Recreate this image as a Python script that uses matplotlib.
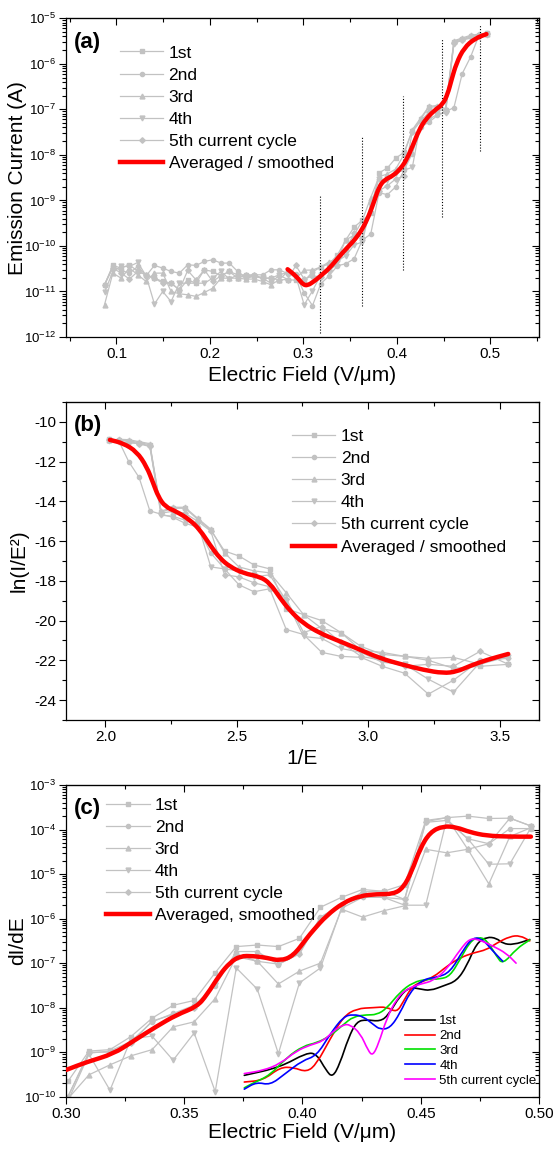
import numpy as np
import matplotlib
matplotlib.use("Agg")
import matplotlib.pyplot as plt
from matplotlib.path import Path
from matplotlib.patches import PathPatch
from matplotlib.lines import Line2D
from matplotlib.ticker import MultipleLocator, LogLocator, NullFormatter

plt.rcParams['font.family'] = ['Liberation Sans', 'DejaVu Sans']
plt.rcParams['mathtext.fontset'] = 'custom'
plt.rcParams['mathtext.rm'] = 'Liberation Sans'
plt.rcParams['mathtext.it'] = 'Liberation Sans:italic'
plt.rcParams['mathtext.bf'] = 'Liberation Sans:bold'
plt.rcParams['axes.unicode_minus'] = False

# --- data ---------------------------------------------------------------------
# applied field (V/um), same grid for all five cycles
E = [0.0872, 0.0961, 0.1050, 0.1139, 0.1228, 0.1317, 0.1406, 0.1495, 0.1584,
     0.1673, 0.1762, 0.1851, 0.1940, 0.2029, 0.2118, 0.2207, 0.2296, 0.2385,
     0.2474, 0.2563, 0.2652, 0.2741, 0.2830, 0.2919, 0.3008, 0.3097, 0.3186,
     0.3275, 0.3364, 0.3453, 0.3542, 0.3631, 0.3720, 0.3809, 0.3898, 0.3987,
     0.4076, 0.4165, 0.4254, 0.4343, 0.4432, 0.4521, 0.4610, 0.4699, 0.4788,
     0.4877, 0.4966]

# emission current below threshold (A), first 22 field points
I_low_1 = [1.40e-11, 3.73e-11, 3.26e-11, 3.86e-11, 2.75e-11, 2.32e-11, 1.96e-11, 1.66e-11,
           1.52e-11, 1.09e-11, 1.80e-11, 1.52e-11, 2.99e-11, 2.75e-11, 2.21e-11, 2.75e-11,
           2.32e-11, 2.32e-11, 2.14e-11, 1.96e-11, 1.96e-11, 2.32e-11]
I_low_2 = [1.40e-11, 3.54e-11, 2.90e-11, 2.53e-11, 3.54e-11, 2.21e-11, 3.73e-11, 3.26e-11,
           2.75e-11, 2.53e-11, 3.86e-11, 3.73e-11, 4.56e-11, 4.97e-11, 4.20e-11, 4.20e-11,
           2.75e-11, 1.96e-11, 2.32e-11, 2.32e-11, 2.99e-11, 2.99e-11]
I_low_3 = [5.1e-12, 2.53e-11, 1.96e-11, 3.26e-11, 2.32e-11, 1.66e-11, 2.53e-11, 2.53e-11,
           1.0e-11, 8.9e-12, 8.45e-12, 7.8e-12, 9.5e-12, 1.18e-11, 1.96e-11, 1.96e-11,
           1.96e-11, 1.87e-11, 1.87e-11, 1.66e-11, 1.40e-11, 1.80e-11]
I_low_4 = [9.5e-12, 2.75e-11, 3.54e-11, 3.54e-11, 4.34e-11, 2.21e-11, 5.3e-12, 1.0e-11,
           6.0e-12, 1.52e-11, 1.52e-11, 1.52e-11, 1.52e-11, 1.96e-11, 2.75e-11, 1.87e-11,
           2.32e-11, 1.96e-11, 2.14e-11, 1.96e-11, 1.52e-11, 2.32e-11]
I_low_5 = [1.40e-11, 3.26e-11, 2.53e-11, 1.87e-11, 2.75e-11, 2.32e-11, 1.96e-11, 1.52e-11,
           1.52e-11, 1.09e-11, 2.90e-11, 1.80e-11, 2.99e-11, 1.66e-11, 2.21e-11, 2.75e-11,
           1.96e-11, 2.32e-11, 2.32e-11, 1.96e-11, 1.96e-11, 1.80e-11]

# ln(I/E^2) for the remaining 25 field points (0.283 ... 0.497 V/um)
FN_1 = [-22.20, -22.30, -22.40, -22.00, -21.80, -21.70, -21.30, -20.60, -20.00, -19.70,
        -19.40, -17.40, -17.20, -16.75, -16.50, -15.45, -14.90, -14.35, -14.35, -14.55,
        -11.15, -11.05, -10.95, -10.92, -10.88]
FN_2 = [-21.90, -22.00, -23.00, -23.70, -22.65, -22.30, -21.85, -21.80, -21.60, -20.70,
        -20.45, -18.40, -18.55, -18.20, -17.40, -16.60, -15.30, -15.10, -14.80, -14.65,
        -14.48, -12.80, -12.00, -10.95, -10.85]
FN_3 = [-21.80, -22.20, -21.85, -21.90, -21.80, -21.60, -21.50, -20.60, -20.40, -19.70,
        -18.60, -17.60, -17.50, -17.30, -16.60, -15.40, -14.85, -14.30, -14.30, -14.50,
        -11.10, -11.00, -10.90, -10.88, -10.92]
FN_4 = [-21.85, -22.10, -23.60, -22.95, -22.20, -22.10, -21.60, -21.40, -20.90, -20.80,
        -19.00, -17.70, -17.80, -17.50, -17.40, -17.30, -15.10, -14.95, -14.75, -14.70,
        -11.25, -11.10, -11.05, -11.00, -10.95]
FN_5 = [-22.20, -21.55, -22.30, -22.20, -22.30, -22.00, -21.80, -21.10, -20.30, -20.60,
        -18.90, -18.30, -18.10, -17.80, -17.70, -15.50, -15.00, -14.60, -14.50, -14.60,
        -11.20, -11.10, -11.00, -10.90, -10.90]

# averaged / smoothed curve in FN coordinates
fit_invE = [2.017, 2.068, 2.119, 2.157, 2.182, 2.201, 2.227, 2.271, 2.322, 2.360, 2.398,
            2.436, 2.474, 2.525, 2.588, 2.626, 2.664, 2.702, 2.753, 2.817, 2.880, 2.956,
            3.045, 3.134, 3.210, 3.286, 3.337, 3.387, 3.451, 3.533]
fit_ln = [-10.91, -11.08, -11.50, -12.25, -13.09, -13.76, -14.27, -14.52, -14.94, -15.44,
          -16.20, -16.87, -17.29, -17.62, -17.79, -18.12, -18.85, -19.50, -20.14, -20.64,
          -20.98, -21.39, -21.90, -22.23, -22.48, -22.65, -22.57, -22.28, -21.98, -21.68]

# step positions (dotted markers in panel a)
step_E = [0.3177, 0.3623, 0.4068, 0.4479, 0.4889]
step_top = [1.24e-9, 2.6e-8, 2.0e-7, 3.6e-6, 7.1e-6]
step_bot = [1.2e-12, 4.8e-12, 3.0e-11, 4.3e-10, 1.2e-8]

# dI/dE for the field points from 0.301 V/um on
D_1 = [2.2e-10, 1.06e-9, 1.14e-9, 2.25e-9, 5.8e-9, 1.13e-8, 1.45e-8, 6.1e-8, 2.35e-7, 2.55e-7,
       2.35e-7, 3.6e-7, 1.8e-6, 3.0e-6, 4.5e-6, 4.1e-6, 5.8e-6, 1.6e-4, 1.85e-4, 2.0e-4,
       1.77e-4, 1.8e-4, 1.2e-4]
D_2 = [1.0e-10, 9.5e-10, 1.06e-9, 1.75e-9, 4.8e-9, 7.4e-9, 1.13e-8, 3.1e-8, 1.82e-7, 1.82e-7,
       9.3e-8, 1.67e-7, 1.08e-6, 2.1e-6, 3.0e-6, 3.0e-6, 2.7e-6, 1.45e-4, 1.6e-4, 6.2e-5,
       4.8e-5, 1.05e-4, 1.05e-4]
D_3 = [9e-11, 3.1e-10, 5.2e-10, 8.3e-10, 1.14e-9, 3.7e-9, 4.8e-9, 1.6e-8, 1.4e-7, 1.1e-7,
       3.4e-8, 6.6e-8, 1.0e-7, 1.63e-6, 1.08e-6, 1.5e-6, 1.94e-6, 3.6e-5, 3.0e-5, 3.6e-5,
       6.0e-6, 7.0e-5, 1.1e-4]
D_4 = [8e-11, 9e-10, 1.4e-10, 2.0e-9, 2.3e-9, 6.6e-10, 2.7e-9, 1.3e-10, 7.8e-8, 2.6e-8,
       9.3e-10, 3.6e-8, 7.8e-8, 1.7e-6, 3.0e-6, 3.0e-6, 2.0e-6, 2.0e-6, 1.7e-4, 6.2e-5,
       1.66e-5, 1.7e-5, 1.1e-4]
D_5 = [1.0e-10, 1.0e-9, 1.0e-9, 1.6e-9, 5.0e-9, 7e-9, 1.0e-8, 3.5e-8, 1.6e-7, 1.1e-7,
       9.5e-8, 1.6e-7, 1.05e-6, 2.0e-6, 4.0e-6, 4.1e-6, 2.7e-6, 1.5e-4, 1.85e-4, 3.6e-5,
       4.8e-5, 1.8e-4, 1.2e-4]

# averaged, smoothed dI/dE (log10)
dfit_E = [0.3000, 0.3088, 0.3200, 0.3285, 0.3383, 0.3468, 0.3553, 0.3595, 0.3651, 0.3693,
          0.3736, 0.3792, 0.3849, 0.3905, 0.3961, 0.4018, 0.4046, 0.4102, 0.4173, 0.4243,
          0.4314, 0.4384, 0.4426, 0.4462, 0.4497, 0.4539, 0.4595, 0.4652, 0.4708, 0.4779,
          0.4877, 0.4966]
dfit_log = [-9.40, -9.22, -9.04, -8.75, -8.42, -8.16, -7.98, -7.72, -7.25, -6.99,
            -6.84, -6.84, -6.88, -6.95, -6.84, -6.44, -6.26, -5.93, -5.64, -5.49,
            -5.45, -5.45, -5.31, -4.94, -4.43, -4.06, -3.92, -3.95, -4.06, -4.14,
            -4.16, -4.16]

# smoothed derivative of each cycle (inset curves, log10)
c1_E = [0.3754, 0.3905, 0.4018, 0.4060, 0.4100, 0.4127, 0.4158, 0.4194, 0.4229, 0.4271,
        0.4328, 0.4363, 0.4412, 0.4454, 0.4497, 0.4540, 0.4596, 0.4652, 0.4694, 0.4736,
        0.4779, 0.4821, 0.4847, 0.4891, 0.4961]
c1_L = [-9.52, -9.34, -9.01, -9.04, -9.41, -9.57, -9.26, -8.68, -8.31, -8.27, -8.31, -8.17,
        -7.73, -7.54, -7.58, -7.62, -7.51, -7.40, -7.07, -6.55, -6.41, -6.44, -6.56, -6.59,
        -6.47]
c2_E = [0.3754, 0.3834, 0.3905, 0.3961, 0.4018, 0.4060, 0.4116, 0.4173, 0.4229, 0.4300,
        0.4356, 0.4398, 0.4426, 0.4461, 0.4497, 0.4553, 0.4610, 0.4666, 0.4722, 0.4779,
        0.4821, 0.4877, 0.4920, 0.4961]
c2_L = [-9.67, -9.63, -9.34, -9.34, -9.45, -9.26, -8.71, -8.20, -8.02, -8.00, -7.98, -8.11,
        -7.87, -7.54, -7.43, -7.32, -7.07, -6.88, -6.77, -6.70, -6.55, -6.40, -6.38, -6.50]
c3_E = [0.3754, 0.3792, 0.3862, 0.3933, 0.4003, 0.4060, 0.4116, 0.4173, 0.4215, 0.4271,
        0.4313, 0.4356, 0.4412, 0.4468, 0.4525, 0.4581, 0.4624, 0.4666, 0.4708, 0.4744,
        0.4779, 0.4821, 0.4847, 0.4906, 0.4961]
c3_L = [-9.80, -9.69, -9.52, -9.12, -8.86, -8.79, -8.64, -8.38, -8.20, -8.16, -8.16, -8.02,
        -7.65, -7.43, -7.36, -7.36, -7.29, -6.92, -6.52, -6.41, -6.48, -6.85, -7.03, -6.67,
        -6.48]
c4_E = [0.3754, 0.3806, 0.3863, 0.3925, 0.3999, 0.4060, 0.4116, 0.4173, 0.4215, 0.4257,
        0.4300, 0.4328, 0.4370, 0.4412, 0.4454, 0.4511, 0.4567, 0.4624, 0.4680, 0.4722,
        0.4765, 0.4800, 0.4847]
c4_L = [-9.83, -9.67, -9.74, -9.49, -9.19, -9.08, -8.60, -8.20, -8.15, -8.20, -8.38, -8.49,
        -8.46, -8.13, -7.65, -7.36, -7.32, -7.21, -6.70, -6.41, -6.48, -6.70, -6.96]
c5_E = [0.3754, 0.3834, 0.3905, 0.3975, 0.4032, 0.4088, 0.4130, 0.4173, 0.4201, 0.4244,
        0.4278, 0.4297, 0.4321, 0.4356, 0.4398, 0.4440, 0.4497, 0.4553, 0.4610, 0.4666,
        0.4708, 0.4750, 0.4807, 0.4862, 0.4903]
c5_L = [-9.48, -9.41, -9.26, -8.97, -8.84, -8.75, -8.53, -8.38, -8.38, -8.57, -8.97, -9.08,
        -8.82, -8.24, -7.80, -7.58, -7.47, -7.40, -7.14, -6.70, -6.44, -6.48, -6.62, -6.78,
        -7.00]

labels = ['1st', '2nd', '3rd', '4th', '5th current cycle']
markers = ['s', 'o', '^', 'v', 'D']
msizes = [3.0, 3.0, 3.5, 3.5, 2.8]
GREY = '#c2c2c2'
RED = '#ff0000'
inset_colors = ['black', '#ff0000', '#00e000', '#0000ff', '#ff00ff']

E = np.array(E)
E_hi = E[22:]
I_cycles = [np.concatenate([lo, E_hi**2 * np.exp(fn)])
            for lo, fn in zip([I_low_1, I_low_2, I_low_3, I_low_4, I_low_5],
                              [FN_1, FN_2, FN_3, FN_4, FN_5])]
FN_cycles = [FN_1, FN_2, FN_3, FN_4, FN_5]
D_cycles = [D_1, D_2, D_3, D_4, D_5]
E_c = E[24:]


def smooth(ax, x, y, logy=False, **kw):
    """quadratic bezier through midpoints -> smooth curve drawn by matplotlib"""
    x = np.asarray(x, float)
    y = np.asarray(y, float)
    xm = (x[:-1] + x[1:]) / 2
    ym = np.sqrt(y[:-1] * y[1:]) if logy else (y[:-1] + y[1:]) / 2
    verts = [(x[0], y[0]), (xm[0], ym[0])]
    codes = [Path.MOVETO, Path.LINETO]
    for i in range(1, len(x) - 1):
        verts += [(x[i], y[i]), (xm[i], ym[i])]
        codes += [Path.CURVE3, Path.CURVE3]
    verts.append((x[-1], y[-1]))
    codes.append(Path.LINETO)
    ax.add_patch(PathPatch(Path(verts, codes), fill=False, capstyle='round',
                           joinstyle='round', **kw))


def style(ax, xmaj, xmin, logy=False, ymaj=None, ymin=None):
    ax.xaxis.set_major_locator(MultipleLocator(xmaj))
    ax.xaxis.set_minor_locator(MultipleLocator(xmin))
    top = ax.secondary_xaxis('top')
    top.xaxis.set_major_locator(MultipleLocator(xmaj))
    top.xaxis.set_minor_locator(MultipleLocator(xmin))
    right = ax.secondary_yaxis('right')
    if logy:
        for a in (ax, right):
            a.yaxis.set_major_locator(LogLocator(10, numticks=20))
            a.yaxis.set_minor_locator(LogLocator(10, subs=np.arange(2, 10), numticks=20))
            a.yaxis.set_minor_formatter(NullFormatter())
    else:
        for a in (ax, right):
            a.yaxis.set_major_locator(MultipleLocator(ymaj))
            a.yaxis.set_minor_locator(MultipleLocator(ymin))
    ax.tick_params(which='both', direction='out', top=False, right=False,
                   labelsize=11, width=0.8, pad=2.5)
    ax.tick_params(axis='y', labelsize=9.5 if logy else 11, pad=2)
    ax.tick_params(which='major', length=5)
    ax.tick_params(which='minor', length=3)
    top.tick_params(which='both', direction='in', labeltop=False, width=0.8)
    top.tick_params(which='major', length=5)
    top.tick_params(which='minor', length=3)
    right.tick_params(which='both', direction='in', labelright=False, width=0.8)
    right.tick_params(which='major', length=5)
    right.tick_params(which='minor', length=3)
    for s in ax.spines.values():
        s.set_linewidth(0.9)


def legend(ax, red_label, x, y):
    handles = [Line2D([], [], color=GREY, lw=0.9, marker=m, ms=ms)
               for m, ms in zip(markers, msizes)]
    handles.append(Line2D([], [], color=RED, lw=3.2))
    ax.legend(handles, labels + [red_label], loc='upper left', bbox_to_anchor=(x, y),
              frameon=False, fontsize=12.5, handlelength=2.5, handletextpad=0.3,
              labelspacing=0.4, borderpad=0, borderaxespad=0, numpoints=1)


fig = plt.figure(figsize=(5.56, 11.49), dpi=100)
L, W = 0.1187, 0.8507
ax_a = fig.add_axes([L, 0.7067, W, 0.2774])
ax_b = fig.add_axes([L, 0.3734, W, 0.2768])
ax_c = fig.add_axes([L, 0.0455, W, 0.2713])

# -- (a) -----------------------------------------------------------------------
ax_a.set_yscale('log')
for I, m, ms in zip(I_cycles, markers, msizes):
    ax_a.plot(E, I, color=GREY, lw=0.9, marker=m, ms=ms, zorder=2)
ax_a.vlines(step_E, step_bot, step_top, colors='black', linestyles=(0, (1, 1.6)),
            lw=0.8, zorder=3)
fit_E = 1 / np.array(fit_invE)
smooth(ax_a, fit_E, fit_E**2 * np.exp(fit_ln), logy=True, color=RED, lw=3.2, zorder=4)
ax_a.set_xlim(0.046, 0.552)
ax_a.set_ylim(1e-12, 1e-5)
style(ax_a, 0.1, 0.05, logy=True)
ax_a.set_xlabel('Electric Field (V/\u03bcm)', fontsize=15, labelpad=3)
ax_a.set_ylabel('Emission Current (A)', fontsize=15)
ax_a.yaxis.set_label_coords(-0.082, 0.5)
ax_a.text(0.017, 0.925, '(a)', transform=ax_a.transAxes, fontsize=16,
          fontweight='bold', va='center', ha='left')
legend(ax_a, 'Averaged / smoothed', 0.114, 0.915)

# -- (b) -----------------------------------------------------------------------
inv_E = 1 / E_hi
for fn, m, ms in zip(FN_cycles, markers, msizes):
    ax_b.plot(inv_E, fn, color=GREY, lw=0.9, marker=m, ms=ms, zorder=2)
smooth(ax_b, fit_invE, fit_ln, color=RED, lw=3.2, zorder=4)
ax_b.set_xlim(1.85, 3.65)
ax_b.set_ylim(-25, -9)
style(ax_b, 0.5, 0.25, ymaj=2, ymin=1)
ax_b.set_xlabel('1/E', fontsize=15, labelpad=3)
ax_b.set_ylabel('ln(I/E\u00b2)', fontsize=15)
ax_b.yaxis.set_label_coords(-0.078, 0.5)
ax_b.text(0.017, 0.925, '(b)', transform=ax_b.transAxes, fontsize=16,
          fontweight='bold', va='center', ha='left')
legend(ax_b, 'Averaged / smoothed', 0.478, 0.915)

# -- (c) -----------------------------------------------------------------------
ax_c.set_yscale('log')
for d, m, ms in zip(D_cycles, markers, msizes):
    ax_c.plot(E_c, d, color=GREY, lw=0.9, marker=m, ms=ms, zorder=2)
smooth(ax_c, dfit_E, 10.0 ** np.array(dfit_log), logy=True, color=RED, lw=3.2, zorder=4)
inset_handles = []
for ex, lg, col in zip([c1_E, c2_E, c3_E, c4_E, c5_E], [c1_L, c2_L, c3_L, c4_L, c5_L],
                       inset_colors):
    smooth(ax_c, ex, 10.0 ** np.array(lg), logy=True, color=col, lw=1.2, zorder=5)
    inset_handles.append(Line2D([], [], color=col, lw=1.2))
ax_c.set_xlim(0.30, 0.50)
ax_c.set_ylim(1e-10, 1e-3)
style(ax_c, 0.05, 0.025, logy=True)
ax_c.xaxis.set_major_formatter(plt.FormatStrFormatter('%.2f'))
ax_c.set_xlabel('Electric Field (V/\u03bcm)', fontsize=15, labelpad=1)
ax_c.set_ylabel('dI/dE', fontsize=15)
ax_c.yaxis.set_label_coords(-0.082, 0.5)
ax_c.text(0.017, 0.925, '(c)', transform=ax_c.transAxes, fontsize=16,
          fontweight='bold', va='center', ha='left')
legend(ax_c, 'Averaged, smoothed', 0.085, 0.96)
leg_main = ax_c.get_legend()
ax_c.legend(inset_handles, labels, loc='upper left', bbox_to_anchor=(0.717, 0.262),
            frameon=False, fontsize=9.5, handlelength=2.3, handletextpad=0.3,
            labelspacing=0.2, borderpad=0, borderaxespad=0)
ax_c.add_artist(leg_main)

fig.savefig('out.png', dpi=100)
plt.close(fig)
